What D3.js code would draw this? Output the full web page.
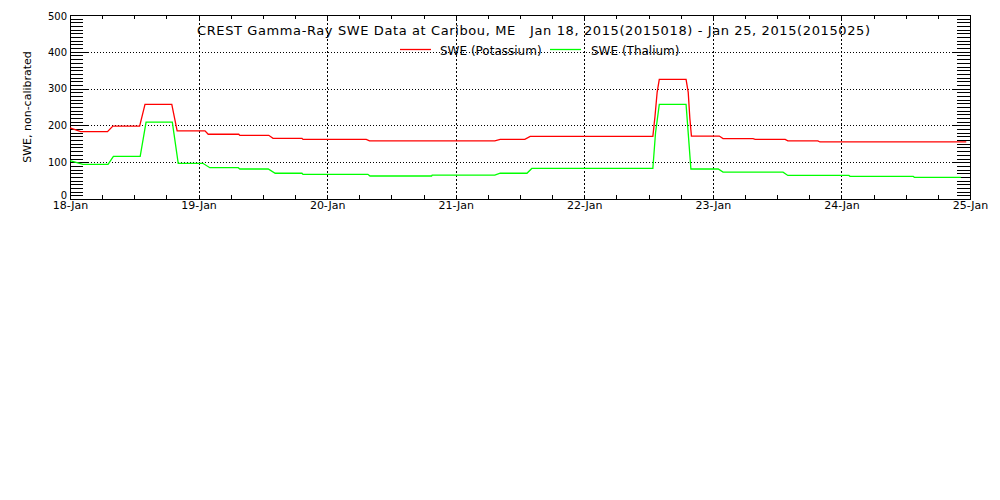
<!DOCTYPE html>
<html>
<head>
<meta charset="utf-8">
<script src="https://cdn.jsdelivr.net/npm/d3@7"></script>
<style>
  body { margin: 0; background: #fff; }
  text { font-family: "DejaVu Sans", sans-serif; fill: #000; }
</style>
</head>
<body>
<div id="viz"></div>
<script>
// hours since Jan 18, 2015 00:00 and SWE readings at each change point
const potassiumHours = [0, 2, 7, 8, 13, 14, 19, 20, 25.2, 25.8, 31.5, 31.7, 37.1, 37.9, 43.3, 43.5, 55.3, 55.9, 79.3, 80.3, 84.9, 85.9, 108.8, 109.2, 109.6, 110, 115, 115.4, 115.7, 116, 121.2, 121.9, 127.5, 127.9, 133.5, 134, 139.6, 140, 167.3];
const potassiumValues = [193, 183, 183, 198, 198, 257, 257, 185, 185, 176, 176, 173, 173, 165, 165, 162, 162, 158, 158, 162, 162, 170, 170, 225, 290, 325, 325, 290, 220, 171, 171, 164, 164, 162, 162, 158, 158, 155, 155];
const thaliumHours = [0, 2.4, 7.1, 8.1, 13.1, 14.2, 19.1, 20.2, 24.8, 26.1, 31.4, 31.7, 37, 38.3, 43.3, 43.5, 55.6, 56, 67.5, 67.6, 79.3, 80.3, 85.3, 86.2, 108.8, 109.3, 110, 115, 115.5, 115.9, 121, 121.9, 133.1, 134, 145.4, 145.6, 157.4, 157.6, 166.3];
const thaliumValues = [104, 94, 94, 116, 116, 209, 209, 97, 97, 85, 85, 81.5, 81.5, 70, 70, 67, 67, 62.5, 62.5, 65, 65, 70, 70, 83, 83, 180, 257, 257, 160, 81.5, 81.5, 73, 73, 64, 64, 61.5, 61.5, 59, 59];
const yTicks = [0, 100, 200, 300, 400, 500];
const seriesNames = ['SWE (Potassium)', 'SWE (Thalium)'];
const seriesColors = ['#ff0000', '#00ff00'];
const titleText = 'CREST Gamma-Ray SWE Data at Caribou, ME\u00a0\u00a0\u00a0Jan 18, 2015(2015018) - Jan 25, 2015(2015025)';

function buildChart(containerId) {
    const width = 1000;
    const height = 500;
    const margin = { top: 15, left: 70, right: 30 };
    const innerWidth = width - margin.left - margin.right;
    const innerHeight = 184;

    const svg = d3.select(containerId)
        .append('svg')
        .attr('width', width)
        .attr('height', height);

    const g = svg.append('g')
        .attr('transform', `translate(${margin.left},${margin.top})`);

    const start = Date.UTC(2015, 0, 18);
    const end = Date.UTC(2015, 0, 25);
    const toDate = h => new Date(start + h * 3600e3);

    const x = d3.scaleUtc().domain([start, end]).range([0, innerWidth]);
    const y = d3.scaleLinear().domain([0, 500]).range([innerHeight, 0]);

    // dotted grid
    g.append('g').selectAll('line')
        .data(yTicks.slice(1, -1))
        .enter().append('line')
        .attr('x1', 0).attr('x2', innerWidth)
        .attr('y1', d => Math.round(y(d)) + 0.5).attr('y2', d => Math.round(y(d)) + 0.5)
        .attr('stroke', '#000').attr('stroke-dasharray', '1,2');

    const days = d3.utcDay.range(toDate(1), toDate(168));
    g.append('g').selectAll('line')
        .data(days)
        .enter().append('line')
        .attr('x1', d => Math.round(x(d)) + 0.5).attr('x2', d => Math.round(x(d)) + 0.5)
        .attr('y1', 0).attr('y2', innerHeight)
        .attr('stroke', '#000').attr('stroke-dasharray', '2,2');

    const dayFmt = d3.utcFormat('%d-%b');
    const sixHours = d3.utcHour.every(6);

    const xBottom = g.append('g')
        .attr('transform', `translate(0,${innerHeight})`)
        .call(d3.axisBottom(x).ticks(sixHours).tickSize(-4).tickPadding(2)
            .tickFormat(d => d.getUTCHours() === 0 ? dayFmt(d) : ''));

    const xTop = g.append('g')
        .call(d3.axisTop(x).ticks(sixHours).tickSize(-4).tickFormat(''));

    const minorY = d3.range(0, 501, 10);
    const yLeftMinor = g.append('g')
        .call(d3.axisLeft(y).tickValues(minorY).tickSize(-13).tickFormat(''));
    const yLeft = g.append('g')
        .call(d3.axisLeft(y).tickValues(yTicks).tickSize(-18).tickPadding(3));
    const yRightMinor = g.append('g')
        .attr('transform', `translate(${innerWidth},0)`)
        .call(d3.axisRight(y).tickValues(minorY).tickSize(-13).tickFormat(''));
    const yRight = g.append('g')
        .attr('transform', `translate(${innerWidth},0)`)
        .call(d3.axisRight(y).tickValues(yTicks).tickSize(-18).tickFormat(''));

    [xBottom, xTop, yLeftMinor, yLeft, yRightMinor, yRight].forEach(a => {
        a.select('.domain').remove();
        a.selectAll('line').attr('shape-rendering', 'crispEdges');
    });
    xBottom.selectAll('text').attr('font-size', 11).attr('font-family', 'DejaVu Sans');
    yLeft.selectAll('text').attr('font-size', 10).attr('font-family', 'DejaVu Sans')
        .attr('y', d => d === 0 ? -4 : (d === 500 ? 1 : 0));

    g.append('rect')
        .attr('x', 0.5).attr('y', 0.5)
        .attr('width', innerWidth).attr('height', innerHeight)
        .attr('fill', 'none').attr('stroke', '#000')
        .attr('shape-rendering', 'crispEdges');

    const line = d3.line()
        .x(d => x(toDate(d[0])))
        .y(d => y(d[1]))
        .curve(d3.curveLinear);

    const series = [
        d3.zip(potassiumHours, potassiumValues),
        d3.zip(thaliumHours, thaliumValues)
    ];

    g.selectAll('.swe-line')
        .data(series)
        .enter().append('path')
        .attr('class', 'swe-line')
        .attr('fill', 'none')
        .attr('stroke', (d, i) => seriesColors[i])
        .attr('stroke-width', 1.3)
        .attr('d', line);

    // title and legend
    svg.append('text')
        .attr('x', 197).attr('y', 35)
        .attr('font-size', 13)
        .attr('textLength', 673)
        .attr('lengthAdjust', 'spacing')
        .text(titleText);

    const legendX = [400, 550];
    const legendTextX = [440, 591];
    const legend = svg.selectAll('.legend')
        .data(seriesNames)
        .enter().append('g')
        .attr('class', 'legend');
    legend.append('line')
        .attr('x1', (d, i) => legendX[i]).attr('x2', (d, i) => legendX[i] + 31)
        .attr('y1', 49.5).attr('y2', 49.5)
        .attr('stroke', (d, i) => seriesColors[i])
        .attr('stroke-width', 1.3);
    legend.append('text')
        .attr('x', (d, i) => legendTextX[i]).attr('y', 55)
        .attr('font-size', 12)
        .text(d => d);

    svg.append('text')
        .attr('transform', 'translate(31,107) rotate(-90)')
        .attr('text-anchor', 'middle')
        .attr('font-size', 11)
        .text('SWE, non-calibrated');
}

buildChart('#viz');
</script>
</body>
</html>
